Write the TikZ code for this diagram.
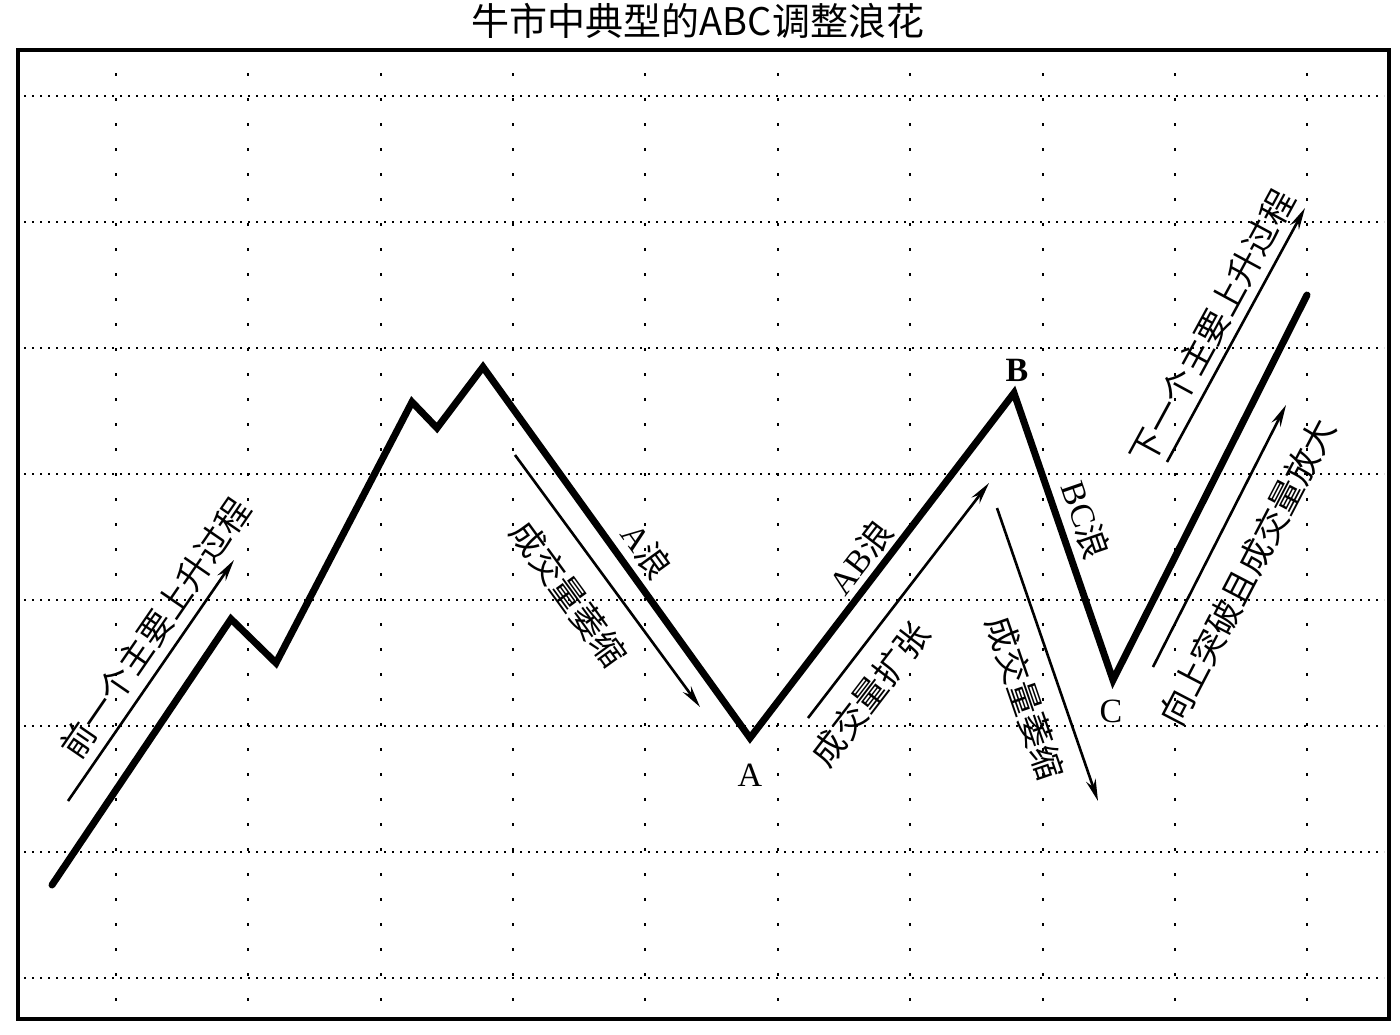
\documentclass[tikz,border=0pt]{standalone}
\usepackage{fontspec}
\setmainfont{Liberation Serif}
\newfontfamily\cjk{Noto Sans CJK SC}
\usetikzlibrary{arrows.meta}
\begin{document}
\begin{tikzpicture}[x=1pt,y=-1pt,
  wave/.style={line width=7pt, line join=miter, line cap=round},
  vol/.style={line width=2.6pt, -{Stealth[length=22pt,width=10pt]}},
  lbl/.style={font=\fontsize{34}{34}\selectfont\cjk, inner sep=0pt},
  ptlbl/.style={font=\fontsize{34}{34}\selectfont, inner sep=0pt},
  hgrid/.style={line width=2.4pt, dash pattern=on 2.4pt off 5.6pt},
  vgrid/.style={line width=2.4pt, dash pattern=on 3pt off 22pt},
  frame/.style={line width=3.5pt}]
\useasboundingbox (0,0) rectangle (1400,1034);
\fill[white] (0,0) rectangle (1400,1034);
% grid
\foreach \y in {96,222,348,474,600,726,852,978}
  \draw[hgrid] (24,\y) -- (1384,\y);
\foreach \x in {116,248,381,513,645,778,910,1043,1175,1307}
  \draw[vgrid] (\x,73) -- (\x,1012);
% frame
\draw[frame] (18,50) rectangle (1389,1019);
% title
\node[font=\fontsize{38}{38}\selectfont\cjk, inner sep=0pt] (title) at (698,21) {牛市中典型的ABC调整浪花};
% wave vertices
\coordinate (s) at (52,885);
\coordinate (p1) at (231,619);
\coordinate (t1) at (276,663);
\coordinate (p2) at (412,402);
\coordinate (t2) at (437,428);
\coordinate (top) at (483,367);
\coordinate (A) at (750,738);
\coordinate (B) at (1014,393);
\coordinate (C) at (1113,680);
\coordinate (e) at (1307,295);
\draw[wave] (s) -- (p1) -- (t1) -- (p2) -- (t2) -- (top) -- (A) -- (B) -- (C) -- (e);
% volume arrows
\coordinate (v1s) at (68,801);   \coordinate (v1e) at (234,560);
\coordinate (v2s) at (515,455);  \coordinate (v2e) at (700,707);
\coordinate (v3s) at (808,718);  \coordinate (v3e) at (989,483);
\coordinate (v4s) at (997,508);  \coordinate (v4e) at (1098,801);
\coordinate (v5s) at (1153,667); \coordinate (v5e) at (1286,405);
\coordinate (v6s) at (1167,462); \coordinate (v6e) at (1305,208);
\draw[vol] (v1s) -- (v1e);
\draw[vol] (v2s) -- (v2e);
\draw[vol] (v3s) -- (v3e);
\draw[vol] (v4s) -- (v4e);
\draw[vol] (v5s) -- (v5e);
\draw[vol] (v6s) -- (v6e);
% point labels
\node[ptlbl] (lA) at (750,775) {A};
\node[ptlbl, font=\fontsize{34}{34}\selectfont\bfseries] (lB) at (1017,370) {B};
\node[ptlbl] (lC) at (1111,711) {C};
% texts
\node[lbl, rotate=55.5] (t1l) at (155,628) {前一个主要上升过程};
\node[lbl, rotate=-54] (tA) at (647,551) {{\fontsize{34}{34}\selectfont\rmfamily A}浪};
\node[lbl, rotate=-54] (tv2) at (569,594) {成交量萎缩};
\node[lbl, rotate=52.5] (tAB) at (860,557) {{\fontsize{34}{34}\selectfont\rmfamily AB}浪};
\node[lbl, rotate=52.5] (tv3) at (870,694) {成交量扩张};
\node[lbl, rotate=-71] (tBC) at (1086,520) {{\fontsize{34}{34}\selectfont\rmfamily BC}浪};
\node[lbl, rotate=-71] (tv4) at (1025,698) {成交量萎缩};
\node[lbl, rotate=62.5] (tv5) at (1247,572) {向上突破且成交量放大};
\node[lbl, rotate=61.5] (tv6) at (1212,327) {下一个主要上升过程};
\end{tikzpicture}
\end{document}
